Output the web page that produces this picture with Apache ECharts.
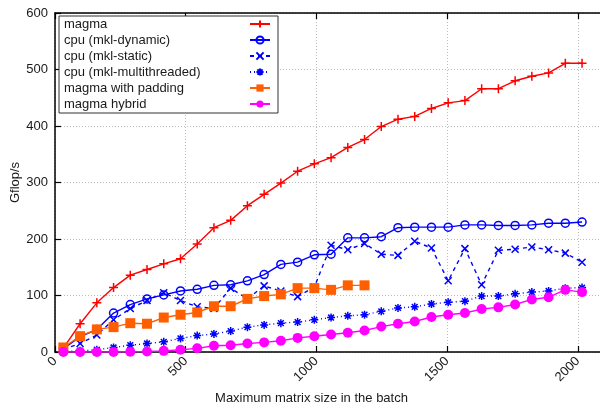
<!DOCTYPE html>
<html>
<head>
<meta charset="utf-8">
<title>Batched performance</title>
<script src="https://cdn.jsdelivr.net/npm/echarts@6/dist/echarts.min.js"></script>
<style>
  html, body { margin: 0; padding: 0; background: #ffffff; }
  #chart { width: 600px; height: 411px; }
</style>
</head>
<body>
<div id="chart"></div>
<script>
// Maximum matrix size in each batch
const matrixSizes = [32, 96, 160, 224, 288, 352, 416, 480, 544, 608, 672, 736, 800, 864, 928, 992,
  1056, 1120, 1184, 1248, 1312, 1376, 1440, 1504, 1568, 1632, 1696, 1760, 1824, 1888, 1952, 2016];

// Gflop/s per implementation
const magma = [7, 50, 87, 114, 136, 146, 156, 165, 191, 220, 233, 259, 279, 299, 320, 333,
  344, 362, 376, 399, 412, 417, 431, 441, 445, 466, 466, 480, 488, 494, 511, 511];
const cpuDynamic = [6, 27, 40, 69, 84, 94, 101, 108, 111, 118, 119, 126, 137, 155, 159, 172,
  173, 202, 202, 204, 220, 221, 221, 221, 225, 225, 224, 224, 225, 228, 228, 230];
const cpuStatic = [5, 15, 30, 57, 77, 91, 105, 91, 80, 77, 113, 94, 117, 108, 98, 115,
  189, 181, 192, 173, 171, 196, 184, 126, 183, 119, 180, 182, 186, 181, 175, 159];
const cpuMultithreaded = [1, 2, 4, 8, 12, 15, 18, 24, 29, 32, 37, 44, 48, 51, 53, 57,
  61, 64, 66, 72, 78, 80, 85, 88, 90, 99, 99, 103, 106, 108, 113, 114];
const magmaPadding = [8, 28, 40, 44, 51, 50, 61, 66, 70, 81, 81, 94, 99, 102, 113, 113,
  110, 118, 118];
const magmaHybrid = [0, 0, 0, 0, 0.5, 1, 2, 4, 6.5, 11, 12, 15, 17, 20, 25, 28,
  31, 34, 38, 45, 50, 54, 62, 66, 69, 76, 79, 84, 93, 97, 110, 106];

const seriesNames = ['magma', 'cpu (mkl-dynamic)', 'cpu (mkl-static)', 'cpu (mkl-multithreaded)',
  'magma with padding', 'magma hybrid'];

const xTicks = { min: 0, max: 2100, interval: 500 };
const yTicks = { min: 0, max: 600, interval: 100 };

const pairs = (ys) => ys.map((y, i) => [matrixSizes[i], y]);

const FONT = '"Liberation Sans", Arial, Helvetica, sans-serif';
const TEXT = '#1a1a1a';

const PLUS = 'path://M0,5L10,5M5,0L5,10';
const CROSS = 'path://M0,0L10,10M10,0L0,10';
const STAR = 'path://M0,5L10,5M5,0L5,10M1.4,1.4L8.6,8.6M8.6,1.4L1.4,8.6';

function strokeSeries(name, data, color, symbol, size, lineType) {
  return {
    name, type: 'line', data,
    symbol, symbolSize: size,
    lineStyle: { color, width: 1.4, type: lineType },
    itemStyle: { color: 'rgba(0,0,0,0)', borderColor: color, borderWidth: 1.5 },
    emphasis: { disabled: true },
    animation: false
  };
}
function fillSeries(name, data, color, symbol, size) {
  return {
    name, type: 'line', data,
    symbol, symbolSize: size,
    lineStyle: { color, width: 1.4 },
    itemStyle: { color, borderWidth: 0 },
    emphasis: { disabled: true },
    animation: false
  };
}

const tickStyle = { show: true, inside: true, length: 6, lineStyle: { color: '#000', width: 1.2 } };
const frameLine = { show: true, lineStyle: { color: '#000', width: 1.5 } };
const gridDots = { show: true, lineStyle: { color: '#bbbbbb', type: [1, 2], width: 1 } };

const chart = echarts.init(document.getElementById('chart'), null, { renderer: 'canvas' });

chart.setOption({
  backgroundColor: '#ffffff',
  textStyle: { fontFamily: FONT },
  grid: { left: 55, right: -4, top: 13, bottom: 59, outerBoundsMode: 'none', containLabel: false },
  legend: {
    orient: 'vertical',
    left: 59, top: 16,
    align: 'right',
    backgroundColor: '#ffffff',
    borderColor: '#333333', borderWidth: 1, borderRadius: 0,
    padding: [0, 7, 1, 5],
    itemWidth: 20, itemHeight: 9, itemGap: 0,
    formatter: '{t|{name}}',
    textStyle: {
      fontFamily: FONT, fontSize: 13, color: TEXT,
      rich: { t: { width: 181, height: 16, lineHeight: 16, align: 'left', fontFamily: FONT, fontSize: 13, color: TEXT } }
    },
    selectedMode: false,
    data: seriesNames
  },
  xAxis: [{
    type: 'value', ...xTicks,
    name: 'Maximum matrix size in the batch',
    nameLocation: 'middle', nameGap: 40, nameMoveOverlap: false,
    nameTextStyle: { fontFamily: FONT, fontSize: 13, color: TEXT, padding: [0, 36, 0, 0] },
    axisLine: frameLine,
    axisTick: tickStyle,
    axisLabel: {
      fontFamily: FONT, fontSize: 13, color: TEXT, rotate: 45, margin: 7,
      showMaxLabel: false, formatter: (v) => String(v)
    },
    splitLine: gridDots
  }, {
    type: 'value', ...xTicks, position: 'top',
    axisLine: frameLine,
    axisTick: tickStyle,
    axisLabel: { show: false },
    splitLine: { show: false }
  }],
  yAxis: {
    type: 'value', ...yTicks,
    name: 'Gflop/s', nameLocation: 'middle', nameGap: 33, nameMoveOverlap: false,
    nameTextStyle: { fontFamily: FONT, fontSize: 13, color: TEXT },
    axisLine: frameLine,
    axisTick: tickStyle,
    axisLabel: { fontFamily: FONT, fontSize: 13, color: TEXT, margin: 7, formatter: (v) => String(v) },
    splitLine: gridDots
  },
  series: [
    strokeSeries(seriesNames[0], pairs(magma), '#ff0000', PLUS, 9, 'solid'),
    strokeSeries(seriesNames[1], pairs(cpuDynamic), '#0000ff', 'circle', 8, 'solid'),
    strokeSeries(seriesNames[2], pairs(cpuStatic), '#0000ff', CROSS, 7, [4, 4]),
    strokeSeries(seriesNames[3], pairs(cpuMultithreaded), '#0000ff', STAR, 8, [1, 3]),
    fillSeries(seriesNames[4], pairs(magmaPadding), '#ff5f00', 'rect', 10),
    fillSeries(seriesNames[5], pairs(magmaHybrid), '#ff00ff', 'circle', 10)
  ]
});
</script>
</body>
</html>
